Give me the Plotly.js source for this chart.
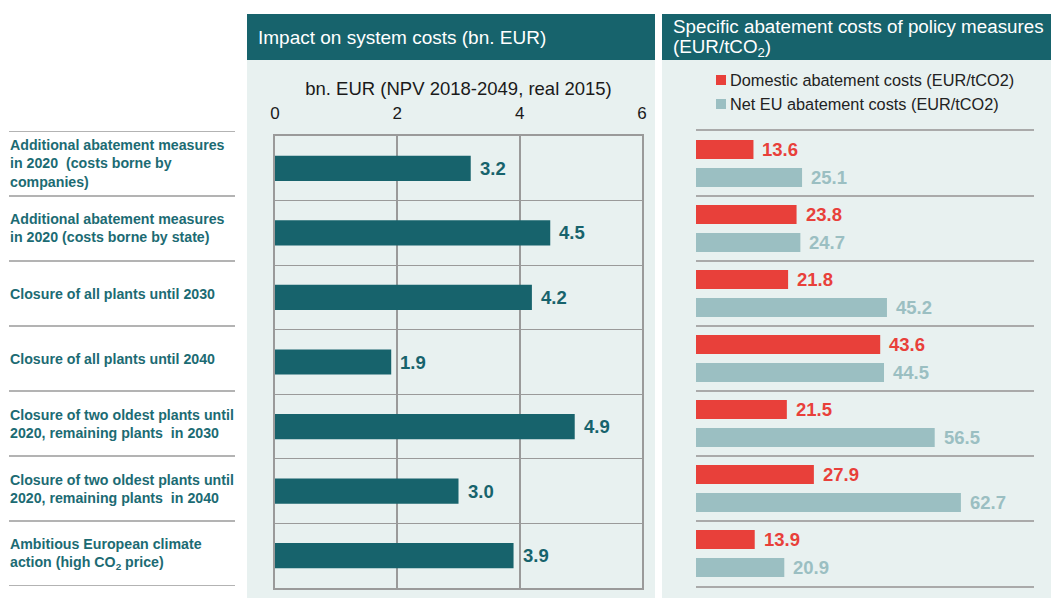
<!DOCTYPE html>
<html>
<head>
<meta charset="utf-8">
<script src="https://cdn.plot.ly/plotly-3.0.1.min.js"></script>
<style>
  html, body { margin: 0; padding: 0; background: #ffffff; }
  #chart { width: 1051px; height: 598px; }
</style>
</head>
<body>
<div id="chart"></div>
<script>
// ---- data ----
const categories = [
  "Additional abatement measures<br>in 2020  (costs borne by<br>companies)",
  "Additional abatement measures<br>in 2020 (costs borne by state)",
  "Closure of all plants until 2030",
  "Closure of all plants until 2040",
  "Closure of two oldest plants until<br>2020, remaining plants  in 2030",
  "Closure of two oldest plants until<br>2020, remaining plants  in 2040",
  "Ambitious European climate<br>action (high CO<sub>2</sub> price)"
];
const systemCosts = [3.2, 4.5, 4.2, 1.9, 4.9, 3.0, 3.9];
const domesticCosts = [13.6, 23.8, 21.8, 43.6, 21.5, 27.9, 13.9];
const netEUCosts = [25.1, 24.7, 45.2, 44.5, 56.5, 62.7, 20.9];
const systemTicks = [0, 2, 4, 6];
const seriesNames = ["Domestic abatement costs (EUR/tCO2)", "Net EU abatement costs (EUR/tCO2)"];
const leftTitle = "Impact on system costs (bn. EUR)";
const rightTitleLines = ["Specific abatement costs of policy measures", "(EUR/tCO<sub>2</sub>)"];
const leftAxisTitle = "bn. EUR (NPV 2018-2049, real 2015)";

// ---- styling ----
const W = 1051, H = 598;
const px = v => v / W;
const py = v => 1 - v / H;
const FONT = "Liberation Sans, Arial, sans-serif";
const TEAL = "#17636c";
const RED = "#e8403a";
const LIGHT = "#9bbfc2";
const PANEL = "#e8f1f0";
const GRID = "#9a9a9a";

const idx = categories.map((_, i) => i);
const bounds = [-0.5].concat(idx.map(i => i + 0.5));

const traces = [
  {
    type: "bar", orientation: "h", x: systemCosts, y: idx,
    xaxis: "x", yaxis: "y", width: 0.39, offset: -0.195,
    marker: { color: TEAL }, hoverinfo: "none", showlegend: false
  },
  {
    type: "bar", orientation: "h", x: domesticCosts, y: idx, name: seriesNames[0],
    xaxis: "x2", yaxis: "y2", width: 0.29, offset: -0.36,
    marker: { color: RED }, hoverinfo: "none", showlegend: false
  },
  {
    type: "bar", orientation: "h", x: netEUCosts, y: idx, name: seriesNames[1],
    xaxis: "x2", yaxis: "y2", width: 0.29, offset: 0.07,
    marker: { color: LIGHT }, hoverinfo: "none", showlegend: false
  }
];

const annotations = [];
// panel titles
annotations.push({
  text: leftTitle, xref: "paper", yref: "paper", x: px(256), y: py(38),
  xanchor: "left", yanchor: "middle", showarrow: false,
  font: { family: FONT, size: 19, color: "#ffffff" }
});
const rightTitleY = [27, 48];
rightTitleLines.forEach((t, k) => {
  annotations.push({
    text: t, xref: "paper", yref: "paper", x: px(671), y: py(rightTitleY[k]),
    xanchor: "left", yanchor: "middle", align: "left", showarrow: false,
    font: { family: FONT, size: 18.8, color: "#ffffff" }
  });
});
// legend
const legendY = [80, 104];
const legendColors = [RED, LIGHT];
seriesNames.forEach((n, k) => {
  annotations.push({
    text: n, xref: "paper", yref: "paper", x: px(728), y: py(legendY[k]),
    xanchor: "left", yanchor: "middle", showarrow: false,
    font: { family: FONT, size: 16.3, color: "#222222" }
  });
});
// category labels
categories.forEach((c, i) => {
  annotations.push({
    text: c, xref: "paper", yref: "y2", x: px(8), y: i,
    xanchor: "left", yanchor: "middle", align: "left", showarrow: false,
    font: { family: FONT, size: 14.2, color: "#1c6b73", weight: "bold" }
  });
});
// value labels
systemCosts.forEach((v, i) => {
  annotations.push({
    text: v.toFixed(1), xref: "x", yref: "y", x: v, y: i, xshift: 7,
    xanchor: "left", yanchor: "middle", showarrow: false,
    font: { family: FONT, size: 18.5, color: TEAL, weight: "bold" }
  });
});
domesticCosts.forEach((v, i) => {
  annotations.push({
    text: v.toFixed(1), xref: "x2", yref: "y2", x: v, y: i - 0.215, xshift: 7,
    xanchor: "left", yanchor: "middle", showarrow: false,
    font: { family: FONT, size: 18.5, color: RED, weight: "bold" }
  });
});
netEUCosts.forEach((v, i) => {
  annotations.push({
    text: v.toFixed(1), xref: "x2", yref: "y2", x: v, y: i + 0.215, xshift: 7,
    xanchor: "left", yanchor: "middle", showarrow: false,
    font: { family: FONT, size: 18.5, color: LIGHT, weight: "bold" }
  });
});

const shapes = [
  // panels
  { type: "rect", xref: "paper", yref: "paper", x0: px(247), x1: px(655), y0: 0, y1: py(60), fillcolor: PANEL, line: { width: 0 }, layer: "below" },
  { type: "rect", xref: "paper", yref: "paper", x0: px(662), x1: 1, y0: 0, y1: py(60), fillcolor: PANEL, line: { width: 0 }, layer: "below" },
  // headers
  { type: "rect", xref: "paper", yref: "paper", x0: px(247), x1: px(655), y0: py(60), y1: py(14), fillcolor: TEAL, line: { width: 0 }, layer: "below" },
  { type: "rect", xref: "paper", yref: "paper", x0: px(662), x1: 1, y0: py(60), y1: py(14), fillcolor: TEAL, line: { width: 0 }, layer: "below" }
];
// legend squares
legendColors.forEach((col, k) => {
  shapes.push({
    type: "rect", xref: "paper", yref: "paper",
    x0: px(716), x1: px(726), y0: py(legendY[k] + 5), y1: py(legendY[k] - 5),
    fillcolor: col, line: { width: 0 }
  });
});
// label separator lines
bounds.forEach(b => {
  shapes.push({
    type: "line", xref: "paper", yref: "y2", x0: px(9), x1: px(235), y0: b, y1: b,
    line: { color: "#9a9a9a", width: 1.5 }
  });
});

const layout = {
  width: W, height: H,
  margin: { l: 0, r: 0, t: 0, b: 0 },
  paper_bgcolor: "#ffffff", plot_bgcolor: "rgba(0,0,0,0)",
  barmode: "overlay", showlegend: false,
  font: { family: FONT },
  xaxis: {
    domain: [px(275), px(642)], anchor: "y", side: "top",
    range: [0, 6], tickvals: systemTicks, ticktext: systemTicks.map(String),
    showgrid: true, gridcolor: GRID, gridwidth: 2,
    showline: true, mirror: true, linecolor: GRID, linewidth: 2,
    zeroline: false, ticks: "", ticklabelstandoff: 8,
    tickfont: { family: FONT, size: 17, color: "#1a1a1a" },
    title: { text: leftAxisTitle, font: { family: FONT, size: 18.5, color: "#1a1a1a" }, standoff: 4 }
  },
  yaxis: {
    domain: [py(588), py(136)], anchor: "x",
    range: [6.5, -0.5], tickvals: bounds, showticklabels: false,
    showgrid: true, gridcolor: GRID, gridwidth: 1.2,
    showline: true, mirror: true, linecolor: GRID, linewidth: 2,
    zeroline: false, ticks: ""
  },
  xaxis2: {
    domain: [px(696), px(1034)], anchor: "y2",
    range: [0, 80], showgrid: false, zeroline: false, showticklabels: false,
    showline: true, mirror: true, linecolor: "#aaaaaa", linewidth: 2, ticks: ""
  },
  yaxis2: {
    domain: [py(586), py(131)], anchor: "x2",
    range: [6.5, -0.5], tickvals: bounds, showticklabels: false,
    showgrid: true, gridcolor: "#aaaaaa", gridwidth: 2,
    zeroline: false, ticks: "", showline: false
  },
  annotations: annotations,
  shapes: shapes
};

Plotly.newPlot("chart", traces, layout, { displayModeBar: false, staticPlot: true });
</script>
</body>
</html>
